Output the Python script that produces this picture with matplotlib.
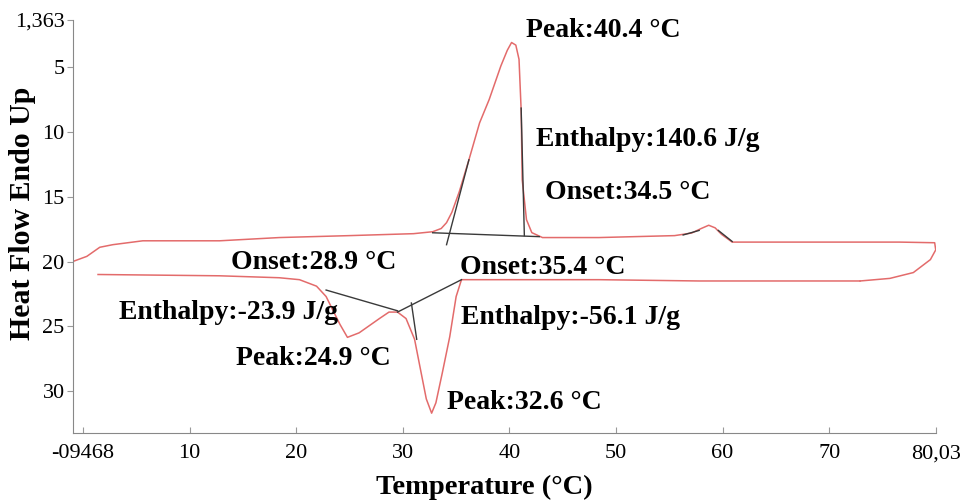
import matplotlib
matplotlib.use("Agg")
import matplotlib.pyplot as plt

# heating run (left to right, ends with the turn-around at 80 C)
heat_T = [-0.97, 0.35, 1.56, 2.78, 5.6, 12.8, 18.4, 25.0, 31.0, 32.8, 33.6, 34.1, 34.6, 35.3,
          36.2, 37.2, 38.1, 39.2, 39.8, 40.2, 40.6, 40.9, 41.1, 41.2, 41.6, 42.1, 43.1, 48.4,
          55.5, 57.1, 58.0, 58.7, 59.3, 59.9, 60.9, 65.3, 76.6, 79.9, 80.0, 79.5, 77.9,
          75.7, 72.9]
heat_H = [20.0, 19.6, 18.9, 18.7, 18.4, 18.4, 18.15, 18.0, 17.85, 17.7, 17.45, 17.0, 16.2,
          14.6, 12.15, 9.3, 7.5, 4.9, 3.7, 3.1, 3.3, 4.4, 8.3, 13.7, 16.77, 17.77, 18.15, 18.15,
          18.0, 17.8, 17.45, 17.2, 17.4, 17.9, 18.5, 18.5, 18.5, 18.55, 19.1, 19.85, 20.85,
          21.3, 21.5]

# cooling run (right to left)
cool_T = [72.9, 57.8, 48.4, 37.2, 35.5, 35.0, 34.4, 33.7, 33.1, 32.7, 32.2, 31.6, 31.1,
          30.3, 29.5, 28.7, 27.8, 25.9, 24.8, 24.1, 23.4, 22.8, 21.9, 20.3, 18.4, 12.8, 1.4]
cool_H = [21.5, 21.5, 21.4, 21.4, 21.4, 22.7, 25.8, 28.6, 30.9, 31.7, 30.6, 28.1, 26.0,
          24.4, 23.9, 23.9, 24.4, 25.5, 25.85, 24.85, 23.7, 22.7, 21.9, 21.4, 21.25, 21.1, 21.0]

# baselines / tangents drawn by the analysis software
base_lines = [
    ([32.8, 42.8], [17.78, 18.08]),
    ([34.1, 36.2], [18.7, 12.15]),
    ([41.4, 41.1], [18.0, 8.16]),
    ([22.8, 29.5], [22.2, 23.8]),
    ([29.5, 35.5], [23.9, 21.4]),
    ([30.8, 31.3], [23.2, 26.0]),
    ([56.3, 57.8], [17.95, 17.6]),
    ([59.6, 60.9], [17.6, 18.45]),
]

labels = ["Peak:40.4 °C", "Enthalpy:140.6 J/g", "Onset:34.5 °C", "Onset:28.9 °C",
          "Onset:35.4 °C", "Enthalpy:-23.9 J/g", "Enthalpy:-56.1 J/g",
          "Peak:24.9 °C", "Peak:32.6 °C"]
label_T = [41.6, 42.5, 43.3, 13.9, 35.4, 3.4, 35.5, 14.3, 34.1]
label_H = [2.16, 10.6, 14.7, 20.08, 20.46, 23.9, 24.3, 27.5, 30.9]

xticks = [0, 10, 20, 30, 40, 50, 60, 70, 80.03]
xticklabels = ["-09468", "10", "20", "30", "40", "50", "60", "70", "80,03"]
yticks = [1.363, 5, 10, 15, 20, 25, 30]
yticklabels = ["1,363", "5", "10", "15", "20", "25", "30"]

plt.rcParams['font.family'] = ['Liberation Serif', 'DejaVu Serif']

fig = plt.figure(figsize=(9.66, 5.0), dpi=100)
ax = fig.add_axes([0.0756, 0.134, 0.8934, 0.826])

ax.plot(heat_T, heat_H, color='#e36b6b', lw=1.1)
ax.plot(cool_T, cool_H, color='#e36b6b', lw=1.1)
for bx, by in base_lines:
    ax.plot(bx, by, color='#3a3a3a', lw=1.0)

for txt, tx, ty in zip(labels, label_T, label_H):
    ax.text(tx, ty, txt, fontsize=20, fontweight='bold', ha='left', va='center')

ax.set_xlim(-0.9468, 80.03)
ax.set_ylim(33.23, 1.363)
ax.set_xticks(xticks)
ax.set_xticklabels(xticklabels)
ax.set_yticks(yticks)
ax.set_yticklabels(yticklabels)
ax.tick_params(axis='x', direction='in', length=4, color='#999999', labelsize=16, pad=8)
ax.tick_params(axis='y', direction='out', length=4, color='#999999', labelsize=16, pad=2)

for s in ['top', 'right']:
    ax.spines[s].set_visible(False)
for s in ['left', 'bottom']:
    ax.spines[s].set_color('#888888')

ax.set_xlabel('Temperature (°C)', fontsize=20.5, fontweight='bold')
ax.xaxis.set_label_coords(0.476, -0.102)
ax.set_ylabel('Heat Flow Endo Up', fontsize=21.5, fontweight='bold', va='center')
ax.yaxis.set_label_coords(-0.059, 0.533)

fig.savefig('out.png', dpi=100)
